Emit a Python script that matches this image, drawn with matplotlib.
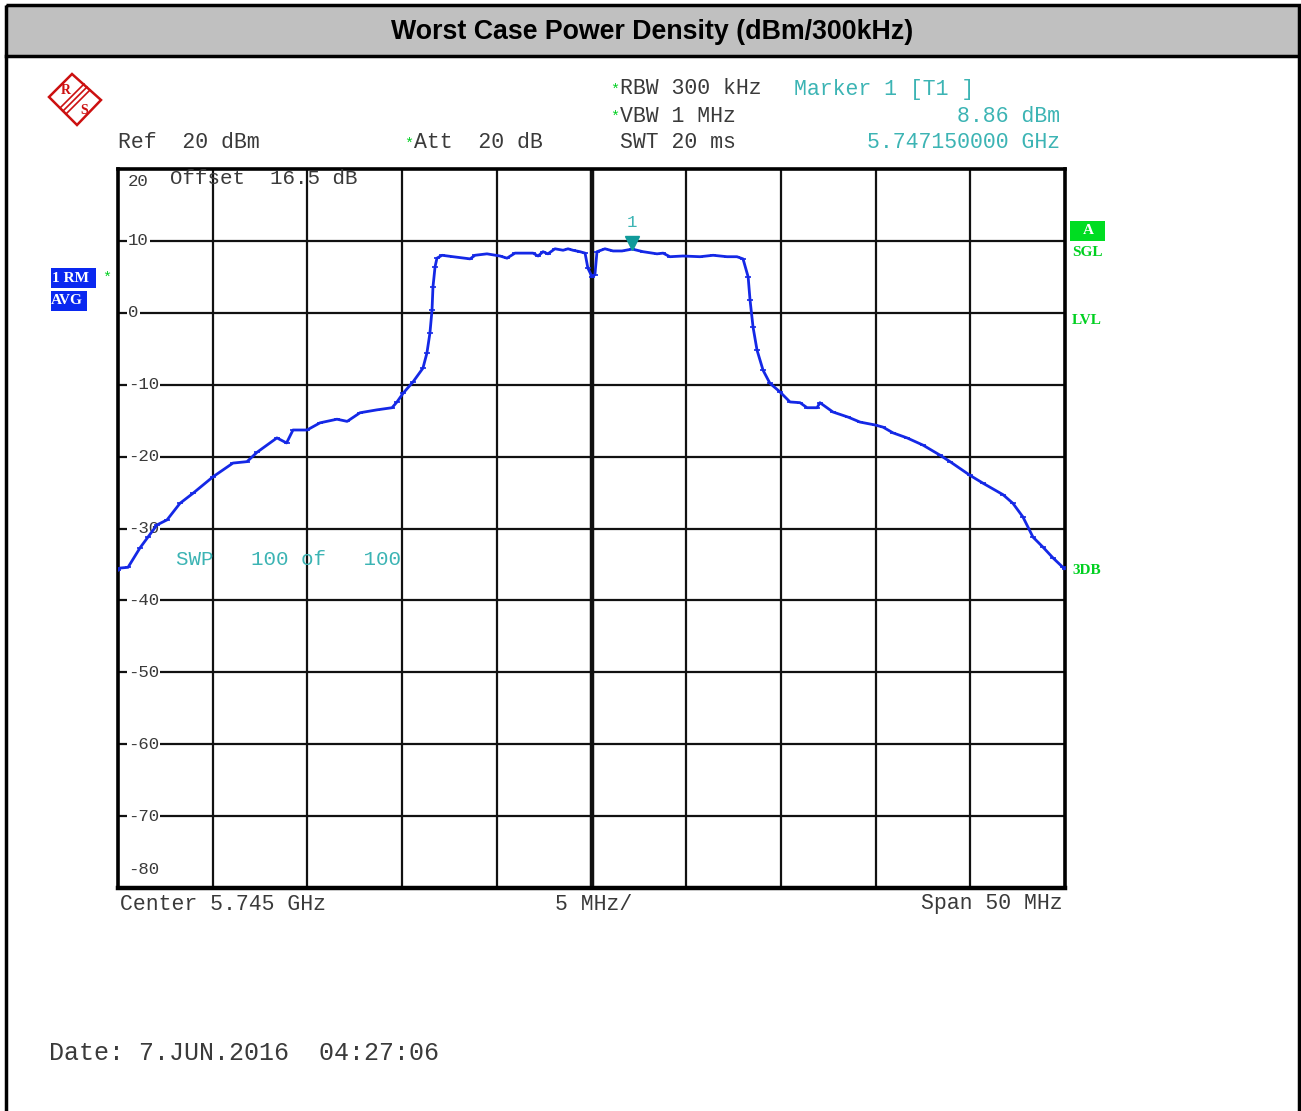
import matplotlib
matplotlib.use("Agg")
import matplotlib.pyplot as plt
import matplotlib.transforms as mtransforms
from matplotlib.patches import Rectangle, Polygon

# analyzer settings
CENTER_GHZ = 5.745
SPAN_MHZ = 50
REF_LEVEL = 20
BOTTOM_LEVEL = -80

# trace (offset from center in MHz, level in dBm)
freq_offset_mhz = [-25.0, -24.89, -24.47, -23.84, -23.42, -22.94, -22.41, -21.73,
                   -21.04, -19.98, -18.93, -18.19, -17.66, -16.61, -16.1, -15.76,
                   -15.02, -14.33, -13.44, -12.9, -12.22, -11.33, -10.53, -10.27,
                   -9.95, -9.42, -8.90, -8.69, -8.53, -8.42, -8.37, -8.26,
                   -8.16, -7.89, -7.31, -6.41, -6.15, -5.52, -4.83, -4.46,
                   -4.04, -3.09, -2.82, -2.56, -2.30, -1.93, -1.50, -1.24,
                   -0.98, -0.61, -0.34, -0.19, 0.03, 0.18, 0.29, 0.71,
                   1.14, 1.61, 2.15, 2.72, 3.46, 3.78, 4.14, 4.83,
                   5.73, 6.42, 7.16, 7.68, 8.00, 8.27, 8.37, 8.53,
                   8.74, 9.06, 9.42, 9.95, 10.48, 11.01, 11.38, 11.91,
                   12.06, 12.75, 13.54, 14.18, 14.97, 15.39, 15.92, 16.66,
                   17.50, 18.40, 18.93, 19.98, 20.67, 21.73, 22.25, 22.78,
                   23.31, 23.84, 24.37, 24.89, 25.0]
level_dbm = [-35.8, -35.5, -35.4, -32.7, -31.2, -29.5, -28.8, -26.5,
             -25.1, -22.8, -20.9, -20.7, -19.4, -17.4, -18.1, -16.3,
             -16.3, -15.3, -14.8, -15.1, -13.9, -13.5, -13.2, -12.4,
             -11.2, -9.6, -7.7, -5.6, -2.8, 0.4, 3.6, 6.4,
             7.6, 8.0, 7.8, 7.5, 8.0, 8.2, 7.9, 7.6,
             8.3, 8.3, 7.9, 8.5, 8.2, 8.9, 8.7, 8.9,
             8.7, 8.5, 8.3, 6.2, 5.0, 5.3, 8.5, 8.9,
             8.6, 8.6, 8.86, 8.5, 8.2, 8.3, 7.8, 7.9,
             7.8, 8.0, 7.8, 7.8, 7.5, 5.0, 1.8, -2.0,
             -5.2, -8.0, -9.8, -11.0, -12.4, -12.5, -13.2, -13.2,
             -12.5, -13.8, -14.5, -15.2, -15.6, -15.9, -16.7, -17.4,
             -18.4, -19.8, -20.7, -22.6, -23.7, -25.3, -26.5, -28.4,
             -31.2, -32.6, -34.1, -35.4, -35.6]

marker_offset_mhz = 2.15
marker_level = 8.86

x_grid = [-20, -15, -10, -5, 0, 5, 10, 15, 20]
y_grid = [10, 0, -10, -20, -30, -40, -50, -60, -70]

W, H = 1301, 1111
MONO = "Liberation Mono"
GREY = "#3a3a3a"
TEAL = "#3cb4b4"
GREEN = "#00d020"
BLUE = "#1428e6"

fig = plt.figure(figsize=(W / 100, H / 100), dpi=100)


def px(x, y):
    return x / W, 1 - y / H


def ftext(x, y, s, **kw):
    kw.setdefault("family", MONO)
    kw.setdefault("fontsize", 15.5)
    kw.setdefault("color", GREY)
    kw.setdefault("va", "center")
    fig.text(*px(x, y), s, **kw)


# background layer in pixel coords for frames / logo / boxes
bg = fig.add_axes([0, 0, 1, 1], zorder=0)
bg.set_xlim(0, W)
bg.set_ylim(H, 0)
bg.axis("off")
bg.add_patch(Rectangle((6, 5), 1293, 51, facecolor="#c0c0c0", edgecolor="none"))
bg.plot([6, 1299], [56, 56], color="black", lw=2.5)
bg.add_patch(Rectangle((6, 5), 1293, 1200, fill=False, edgecolor="black", lw=2.5))

# R&S logo
bg.add_patch(Polygon([(72, 74), (101, 100), (77, 125), (49, 97)], closed=True,
                     fill=False, edgecolor="#cc1010", lw=1.8))
for d in (-3, 0, 3):
    bg.plot([87 + d, 63 + d], [87 + d, 111 + d], color="#cc1010", lw=1.2)
bg.text(66, 91, "R", color="#cc1010", fontsize=10, fontweight="bold",
        ha="center", va="center", family="Liberation Serif")
bg.text(84, 110, "S", color="#cc1010", fontsize=10, fontweight="bold",
        ha="center", va="center", family="Liberation Serif")

# status boxes
bg.add_patch(Rectangle((51, 268), 45, 20, facecolor="#0a28f0", edgecolor="none"))
bg.add_patch(Rectangle((51, 291), 36, 20, facecolor="#0a28f0", edgecolor="none"))
bg.add_patch(Rectangle((1070, 221), 35, 20, facecolor="#00dd22", edgecolor="none"))

# title
ftext(652, 32, "Worst Case Power Density (dBm/300kHz)", ha="center",
      family="Liberation Sans", fontweight="bold", fontsize=19.3,
      color="black")

# header lines
ftext(404, 144, "*", color=GREEN, fontsize=11)
ftext(118, 143, "Ref  20 dBm")
ftext(414, 143, "Att  20 dB")
ftext(610, 90, "*", color=GREEN, fontsize=11)
ftext(620, 89, "RBW 300 kHz")
ftext(610, 117, "*", color=GREEN, fontsize=11)
ftext(620, 116, "VBW 1 MHz")
ftext(620, 143, "SWT 20 ms")
ftext(794, 89, "Marker 1 [T1 ]", color=TEAL)
ftext(1060, 116, "8.86 dBm", color=TEAL, ha="right")
ftext(1060, 143, "5.747150000 GHz", color=TEAL, ha="right")

# side labels
serif = dict(family="Liberation Serif", fontweight="bold", fontsize=11)
ftext(52, 278, "1 RM", color="white", **serif)
ftext(51, 301, "AVG", color="white", **serif)
ftext(102, 278, "*", color=GREEN, fontsize=11)
ftext(1088, 231, "A", color="white", ha="center", **serif)
ftext(1072, 253, "SGL", color=GREEN, **serif)
ftext(1072, 321, "LVL", color=GREEN, **serif)
ftext(1072, 571, "3DB", color=GREEN, **serif)

# bottom lines
ftext(120, 904, "Center 5.745 GHz")
ftext(555, 904, "5 MHz/")
ftext(1063, 904, "Span 50 MHz", ha="right")
ftext(49, 1053, "Date: 7.JUN.2016  04:27:06", fontsize=18)

# main screen
ax = fig.add_axes([118 / W, 1 - 888 / H, 947 / W, 719 / H], zorder=1)
ax.set_xlim(-SPAN_MHZ / 2, SPAN_MHZ / 2)
ax.set_ylim(BOTTOM_LEVEL, REF_LEVEL)
ax.set_xticks(x_grid)
ax.set_yticks(y_grid)
ax.tick_params(length=0, labelbottom=False, labelleft=False)
ax.grid(True, color="#111111", lw=1.6)
ax.axvline(0, color="#111111", lw=3.2)
for sp in ax.spines.values():
    sp.set_linewidth(2.6)
ax.spines["bottom"].set_linewidth(3.2)

trans = mtransforms.blended_transform_factory(ax.transAxes, ax.transData)
for v in y_grid:
    ax.text(0.0105, v, str(v), transform=trans, family=MONO, fontsize=12.5,
            color=GREY, va="center", ha="left",
            bbox=dict(facecolor="white", edgecolor="none", pad=1.0))

ax.plot(freq_offset_mhz, level_dbm, color=BLUE, lw=2.0, marker="_", ms=4,
        mew=1.2, zorder=3)

mk_trans = mtransforms.offset_copy(ax.transData, fig=fig, y=6, units="dots")
ax.plot(marker_offset_mhz, marker_level, marker="v", color="#109a9a", ms=10,
        transform=mk_trans, zorder=4)
ax.annotate("1", (marker_offset_mhz, marker_level), xytext=(0, 27),
            textcoords="offset pixels", ha="center", va="center",
            family=MONO, fontsize=12.5, color=TEAL)

# in-screen texts
ftext(128, 181, "20", fontsize=12.5)
ftext(128, 869, "-80", fontsize=12.5)
ftext(170, 178, "Offset  16.5 dB", fontsize=15)
ftext(176, 559, "SWP   100 of   100", color=TEAL, fontsize=15)

fig.savefig("out.png", dpi=100)
